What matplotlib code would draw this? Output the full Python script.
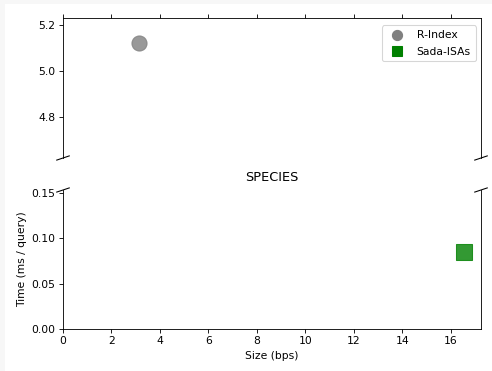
import matplotlib
matplotlib.use('Agg')
import matplotlib.pyplot as plt
from matplotlib.lines import Line2D
from matplotlib.patches import Rectangle

# data
methods = ['R-Index', 'Sada-ISAs']
sizes = [3.13, 16.54]       # bps
times = [5.12, 0.085]       # ms / query
colors = ['grey', 'green']
markers = ['o', 's']

fig = plt.figure(figsize=(492 / 77, 371 / 77), dpi=77)
fig.patch.set_facecolor('#f7f7f7')
fig.patches.append(Rectangle((5 / 492, 0), 1, 1 - 4 / 371, transform=fig.transFigure,
                             facecolor='white', edgecolor='none', zorder=-1))

ax = fig.add_axes([63 / 492, 1 - 158 / 371, 418 / 492, 140 / 371])
ax2 = fig.add_axes([63 / 492, 1 - 329 / 371, 418 / 492, 139 / 371], sharex=ax)

for a in (ax, ax2):
    for x, y, c, m in zip(sizes, times, colors, markers):
        a.scatter(x, y, s=200, c=c, marker=m, alpha=0.8)

ax.set_ylim(4.62, 5.23)
ax2.set_ylim(0, 0.153)
ax2.set_xlim(0, 17.25)

# broken axis
ax.spines['bottom'].set_visible(False)
ax2.spines['top'].set_visible(False)
ax.xaxis.tick_top()
ax.tick_params(labeltop=False)
ax2.xaxis.tick_bottom()

d = .015
kwargs = dict(transform=ax.transAxes, color='k', clip_on=False, lw=1)
ax.plot((-d, +d), (-d, +d), **kwargs)
ax.plot((1 - d, 1 + d), (-d, +d), **kwargs)
kwargs.update(transform=ax2.transAxes)
ax2.plot((-d, +d), (1 - d, 1 + d), **kwargs)
ax2.plot((1 - d, 1 + d), (1 - d, 1 + d), **kwargs)

handles = [Line2D([], [], linestyle='none', marker=m, color=c, markersize=9.5)
           for m, c in zip(markers, colors)]
ax.legend(handles, methods, loc='upper right', bbox_to_anchor=(1, 0.985),
          labelspacing=0.6, borderpad=0.45)

ax2.set_title('SPECIES', pad=8)
ax2.set_ylabel('Time (ms / query)')
ax2.set_xlabel('Size (bps)')

fig.savefig('out.png', dpi=77, facecolor=fig.get_facecolor())
